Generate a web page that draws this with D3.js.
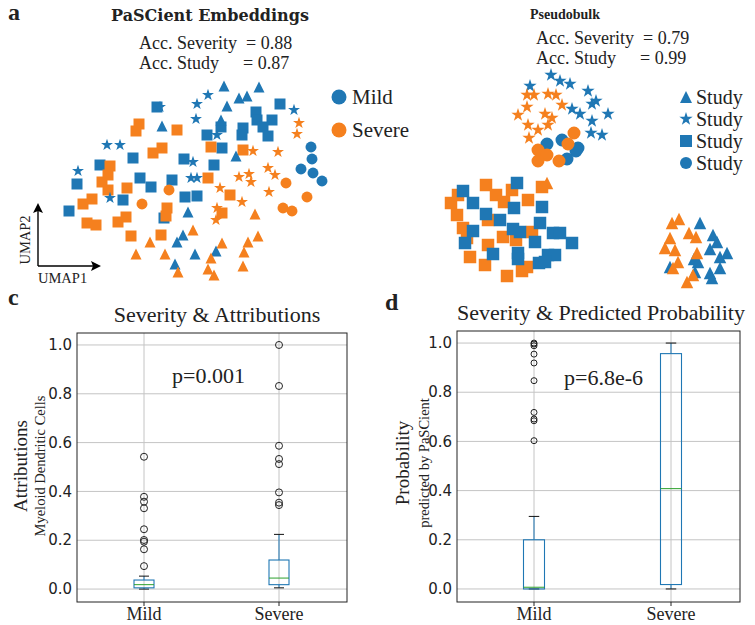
<!DOCTYPE html>
<html>
<head>
<meta charset="utf-8">
<script src="https://cdn.jsdelivr.net/npm/d3@7"></script>
<style>
  body { margin: 0; background: #fff; }
  svg text { fill: #222; }
</style>
</head>
<body>
<svg id="fig" width="755" height="625"></svg>
<script>
// ---------- panel a (left): PaSCient embeddings, UMAP coords (arbitrary units)
const embTriMild = [[22.4,8.6],[25.9,8.7],[22.7,10.6],[23.9,9.8],[24.7,9.6],[16.2,12.6],[22.1,12.0],[23.6,15.6],[18.8,21.2],[18.3,23.5],[17.7,24.2],[19.5,25.4],[17.5,26.4],[21.6,25.1]];
const embTriSev = [[25.5,21.4],[19.3,23.0],[15.0,24.2],[13.6,25.4],[16.5,25.4],[17.8,27.2],[22.2,24.3],[21.1,25.8],[20.8,26.9],[21.4,27.5],[24.3,26.6],[24.8,24.2],[25.8,23.6],[24.4,25.2]];
const embStarMild = [[20.8,9.5],[19.7,10.4],[19.6,11.9],[29.4,11.0],[10.7,14.5],[12.0,14.5],[7.8,17.1],[19.3,16.2],[19.1,17.8],[19.7,17.8],[11.0,19.8],[21.7,13.5],[16.0,10.7]];
const embStarSev = [[29.9,12.3],[29.7,13.4],[25.3,15.1],[27.8,15.2],[23.9,17.7],[24.9,17.4],[25.1,18.2],[26.8,16.8],[27.5,17.5],[22.0,18.8],[26.9,19.2],[24.2,20.2],[21.7,20.8],[21.6,22.0]];
const embSqMild = [[15.7,10.7],[28.0,10.4],[25.6,11.2],[25.7,12.0],[27.2,12.0],[26.3,12.7],[26.8,13.6],[24.3,12.8],[24.2,13.5],[22.1,12.7],[20.7,13.5],[22.2,14.8],[18.4,15.9],[21.4,16.5],[13.3,15.8],[10.0,16.5],[14.0,17.8],[15.1,18.7],[17.2,18.0],[7.7,18.4],[12.3,20.0],[18.5,19.7],[19.7,19.6],[6.9,21.1],[16.4,21.8]];
const embSqSev = [[13.9,12.4],[13.6,13.1],[17.7,13.0],[16.2,14.8],[15.3,15.3],[21.1,14.7],[24.3,15.0],[11.0,16.6],[10.8,17.5],[10.2,18.2],[10.8,19.0],[12.7,18.8],[20.8,17.8],[9.2,19.9],[8.3,20.4],[23.0,19.5],[16.7,20.8],[16.6,21.6],[12.6,21.7],[11.8,22.2],[8.7,22.3],[9.6,22.5],[13.1,23.6],[16.1,23.5],[22.2,21.3]];
const embCircMild = [[31.1,14.7],[31.2,15.9],[30.1,16.9],[31.3,17.3],[32.2,18.1]];
const embCircSev = [[16.9,19.0],[14.2,20.4],[28.6,18.3],[30.7,19.7],[28.3,20.8],[29.2,21.1]];

// ---------- panel a (right): pseudobulk, UMAP coords
const pbTriMild = [[70.0,22.3],[71.3,23.5],[71.7,24.2],[71.0,24.9],[72.7,25.3],[72.0,25.7],[69.4,25.9],[69.8,26.2],[67.0,26.7],[72.0,26.8],[71.0,27.3],[71.2,27.8],[69.5,27.2]];
const pbTriSev = [[67.2,22.3],[67.9,21.9],[67.0,23.8],[68.9,23.3],[69.6,23.7],[66.5,24.8],[67.5,25.0],[69.7,25.3],[67.8,26.2],[67.3,26.8],[69.3,27.5],[68.7,28.2],[54.7,18.3]];
const pbStarMild = [[55.1,7.5],[56.0,8.1],[57.0,8.4],[53.0,8.6],[58.8,9.1],[59.2,10.4],[59.6,10.1],[57.2,10.9],[58.0,11.4],[60.8,11.4],[59.2,12.1],[59.1,13.3],[60.2,13.5]];
const pbStarSev = [[52.7,9.5],[53.4,9.5],[54.8,9.4],[55.6,9.5],[52.7,10.7],[51.8,11.5],[56.2,10.5],[54.5,11.4],[55.2,11.8],[52.8,12.5],[53.8,13.0],[54.8,12.5],[52.9,13.8]];
const pbSqMild = [[46.3,19.1],[47.3,20.3],[51.7,18.3],[51.4,20.8],[48.6,21.4],[50.0,22.0],[54.2,20.7],[47.3,23.1],[46.5,24.3],[49.3,25.4],[51.3,22.9],[52.0,23.2],[54.0,22.3],[53.5,24.2],[55.3,23.3],[56.0,23.3],[57.2,24.3],[51.8,25.3],[51.8,25.9],[53.9,26.3],[54.8,25.5],[55.5,25.5],[54.5,26.2]];
const pbSqSev = [[45.1,20.3],[45.8,19.5],[48.6,18.5],[49.6,19.5],[50.4,20.2],[51.2,19.0],[52.8,20.0],[54.2,18.7],[45.7,21.5],[46.3,22.8],[48.8,22.0],[50.3,23.7],[51.6,24.0],[53.2,23.2],[47.0,25.7],[48.8,24.5],[48.5,26.5],[50.7,27.6],[52.2,27.1],[52.7,26.7],[46.7,23.8]];
const pbCircMild = [[54.7,14.4],[56.2,14.0],[57.8,14.8],[57.6,15.1],[56.7,15.9]];
const pbCircSev = [[57.4,13.3],[53.8,15.0],[54.7,15.5],[53.8,16.1],[56.8,14.4],[55.9,16.1]];

// ---------- panels c, d: box plots  (lo whisker, q1, median, q3, hi whisker)
const groups = ["Mild", "Severe"];
const attrStats = [[0.0, 0.005, 0.018, 0.037, 0.053], [0.005, 0.018, 0.045, 0.119, 0.224]];
const attrOutliers = [[0.542, 0.378, 0.358, 0.331, 0.245, 0.201, 0.194, 0.163, 0.094],
                      [1.0, 0.832, 0.587, 0.533, 0.512, 0.396, 0.354, 0.344]];
const probStats = [[0.0, 0.0, 0.007, 0.200, 0.295], [0.0, 0.018, 0.408, 0.957, 1.0]];
const probOutliers = [[1.0, 0.996, 0.989, 0.955, 0.919, 0.847, 0.718, 0.691, 0.684, 0.603], []];
const yTicks = [0, 0.2, 0.4, 0.6, 0.8, 1.0];

const BLUE = "#1f77b4", ORANGE = "#f5801e", GREEN = "#2ca02c";
const SERIF = "'Liberation Serif', 'Times New Roman', serif";
const SANS = "'DejaVu Sans', sans-serif";

const svg = d3.select("#fig");

// matplotlib style "^" triangle (width == height)
const symTri = { draw(ctx, size) { const r = Math.sqrt(size) / 2;
  ctx.moveTo(0, -r); ctx.lineTo(r, r); ctx.lineTo(-r, r); ctx.closePath(); } };
const starSize = r => r * r / 0.8908130915292852;

function drawPoints(g, pts, type, size, color, xs, ys) {
  g.selectAll(null).data(pts).enter().append("path")
    .attr("d", d3.symbol().type(type).size(size))
    .attr("transform", d => "translate(" + xs(d[0]) + "," + ys(d[1]) + ")")
    .attr("fill", color);
}

function txt(x, y, s, size, opts) {
  opts = opts || {};
  return svg.append("text").attr("x", x).attr("y", y).text(s)
    .attr("font-family", opts.family || SERIF)
    .attr("font-size", size)
    .attr("font-weight", opts.weight || "normal")
    .attr("text-anchor", opts.anchor || "start");
}

// ================= panel a, left
const xA = d3.scaleLinear().domain([5, 33]).range([50, 330]);
const yA = d3.scaleLinear().domain([7, 29]).range([70, 290]);
const gA = svg.append("g");
drawPoints(gA, embSqMild, d3.symbolSquare, 121, BLUE, xA, yA);
drawPoints(gA, embSqSev, d3.symbolSquare, 121, ORANGE, xA, yA);
drawPoints(gA, embStarMild, d3.symbolStar, starSize(6.3), BLUE, xA, yA);
drawPoints(gA, embStarSev, d3.symbolStar, starSize(6.3), ORANGE, xA, yA);
drawPoints(gA, embTriMild, symTri, 121, BLUE, xA, yA);
drawPoints(gA, embTriSev, symTri, 121, ORANGE, xA, yA);
drawPoints(gA, embCircMild, d3.symbolCircle, Math.PI * 30, BLUE, xA, yA);
drawPoints(gA, embCircSev, d3.symbolCircle, Math.PI * 30, ORANGE, xA, yA);

txt(8, 20, "a", 24, { weight: "bold" });
txt(210, 21, "PaSCient Embeddings", 16, { family: "'DejaVu Serif', serif", weight: "bold", anchor: "middle" });
txt(139, 49, "Acc. Severity", 18); txt(246, 49, "= 0.88", 18);
txt(139, 69, "Acc. Study", 18);    txt(243, 69, "= 0.87", 18);

// severity legend
const sevLegend = [["Mild", BLUE], ["Severe", ORANGE]];
sevLegend.forEach((d, i) => {
  svg.append("circle").attr("cx", 339).attr("cy", 97 + i * 33).attr("r", 7.5).attr("fill", d[1]);
  txt(352, 97 + i * 33, d[0], 21).attr("dy", "0.33em");
});

// UMAP axis arrows
const arr = svg.append("g").attr("stroke", "#000").attr("stroke-width", 1.4);
arr.append("line").attr("x1", 38).attr("y1", 266).attr("x2", 38).attr("y2", 210);
arr.append("line").attr("x1", 38).attr("y1", 266).attr("x2", 94).attr("y2", 266);
svg.append("path").attr("d", "M38,203 L33,213 L38,211 L43,213 Z").attr("fill", "#000");
svg.append("path").attr("d", "M101,266 L91,261 L93,266 L91,271 Z").attr("fill", "#000");
txt(38, 283, "UMAP1", 14.5);
txt(0, 0, "UMAP2", 14.5, { anchor: "middle" }).attr("transform", "translate(30,240) rotate(-90)");

// ================= panel a, right
const xB = d3.scaleLinear().domain([44, 74]).range([440, 740]);
const yB = d3.scaleLinear().domain([7, 29]).range([70, 290]);
const gB = svg.append("g");
drawPoints(gB, pbSqSev, d3.symbolSquare, 156, ORANGE, xB, yB);
drawPoints(gB, pbSqMild, d3.symbolSquare, 156, BLUE, xB, yB);
drawPoints(gB, pbStarMild, d3.symbolStar, starSize(7), BLUE, xB, yB);
drawPoints(gB, pbStarSev, d3.symbolStar, starSize(7), ORANGE, xB, yB);
drawPoints(gB, pbCircMild, d3.symbolCircle, Math.PI * 42, BLUE, xB, yB);
drawPoints(gB, pbCircSev, d3.symbolCircle, Math.PI * 42, ORANGE, xB, yB);
drawPoints(gB, pbTriMild, symTri, 156, BLUE, xB, yB);
drawPoints(gB, pbTriSev, symTri, 156, ORANGE, xB, yB);

txt(565, 19, "Pseudobulk", 14, { weight: "bold", anchor: "middle" });
txt(536, 44, "Acc. Severity", 18); txt(643, 44, "= 0.79", 18);
txt(536, 64, "Acc. Study", 18);    txt(640, 64, "= 0.99", 18);

// study legend
const studyLegend = [[symTri, 144], [d3.symbolStar, starSize(7)], [d3.symbolSquare, 144], [d3.symbolCircle, Math.PI * 36]];
studyLegend.forEach((d, i) => {
  svg.append("path").attr("d", d3.symbol().type(d[0]).size(d[1]))
    .attr("transform", "translate(686," + (97 + i * 22) + ")").attr("fill", BLUE);
  txt(696, 97 + i * 22, "Study", 20).attr("dy", "0.33em");
});

// ================= box plots
function boxPanel(o) {
  const y = d3.scaleLinear().domain([-0.053, 1.049]).range([o.bottom, o.top]);
  const x = d3.scalePoint().domain(groups).range(o.xr);
  const g = svg.append("g");
  // grid
  g.selectAll(null).data(yTicks).enter().append("line")
    .attr("x1", o.left).attr("x2", o.right).attr("y1", d => y(d)).attr("y2", d => y(d))
    .attr("stroke", "#c4c4c4").attr("stroke-width", 1);
  g.selectAll(null).data(groups).enter().append("line")
    .attr("x1", d => x(d)).attr("x2", d => x(d)).attr("y1", o.top).attr("y2", o.bottom)
    .attr("stroke", "#c4c4c4").attr("stroke-width", 1);
  // boxes
  o.stats.forEach((s, i) => {
    const cx = x(groups[i]), hw = o.boxW / 2;
    g.append("line").attr("x1", cx).attr("x2", cx).attr("y1", y(s[0])).attr("y2", y(s[1])).attr("stroke", BLUE);
    g.append("line").attr("x1", cx).attr("x2", cx).attr("y1", y(s[3])).attr("y2", y(s[4])).attr("stroke", BLUE);
    [s[0], s[4]].forEach(v => g.append("line").attr("x1", cx - hw / 2).attr("x2", cx + hw / 2)
      .attr("y1", y(v)).attr("y2", y(v)).attr("stroke", "#111"));
    g.append("rect").attr("x", cx - hw).attr("width", o.boxW)
      .attr("y", y(s[3])).attr("height", Math.max(0.5, y(s[1]) - y(s[3])))
      .attr("fill", "none").attr("stroke", BLUE).attr("stroke-width", 1.1);
    g.append("line").attr("x1", cx - hw).attr("x2", cx + hw).attr("y1", y(s[2])).attr("y2", y(s[2]))
      .attr("stroke", GREEN);
    g.selectAll(null).data(o.outliers[i]).enter().append("circle")
      .attr("cx", cx).attr("cy", d => y(d)).attr("r", o.outR)
      .attr("fill", "none").attr("stroke", "#222").attr("stroke-width", 1);
  });
  // frame
  g.append("rect").attr("x", o.left).attr("y", o.top)
    .attr("width", o.right - o.left).attr("height", o.bottom - o.top)
    .attr("fill", "none").attr("stroke", "#222").attr("stroke-width", 1);
  // ticks
  yTicks.forEach(t => txt(o.left - 5, y(t), d3.format(".1f")(t), 15, { family: SANS, anchor: "end" }).attr("dy", "0.35em"));
  groups.forEach(gn => {
    g.append("line").attr("x1", x(gn)).attr("x2", x(gn)).attr("y1", o.bottom).attr("y2", o.bottom + 4).attr("stroke", "#222");
    txt(x(gn), o.bottom + 18, gn, 18, { anchor: "middle" });
  });
  txt(o.titleX, o.top - 11, o.title, 22, { anchor: "middle" });
  txt(o.pX, o.pY, o.pText, 22);
  txt(0, 0, o.ylab, 19, { anchor: "middle" }).attr("transform", "translate(" + o.ylabX + "," + o.ylabY + ") rotate(-90)");
  txt(0, 0, o.ysub, 14.5, { anchor: "middle" }).attr("transform", "translate(" + o.ysubX + "," + o.ylabY + ") rotate(-90)");
}

txt(8, 305, "c", 24, { weight: "bold" });
boxPanel({ left: 77, right: 347, top: 333, bottom: 602, xr: [144, 279], boxW: 20, outR: 3.5,
  stats: attrStats, outliers: attrOutliers, title: "Severity & Attributions", titleX: 217,
  pText: "p=0.001", pX: 172, pY: 383, ylab: "Attributions", ysub: "Myeloid Dendritic Cells",
  ylabX: 27, ysubX: 45, ylabY: 466 });

txt(385, 310, "d", 24, { weight: "bold" });
boxPanel({ left: 457, right: 740, top: 331, bottom: 602, xr: [534, 671], boxW: 21, outR: 3,
  stats: probStats, outliers: probOutliers, title: "Severity & Predicted Probability", titleX: 601,
  pText: "p=6.8e-6", pX: 564, pY: 385, ylab: "Probability", ysub: "predicted by PaSCient",
  ylabX: 409, ysubX: 429, ylabY: 463 });
</script>
</body>
</html>
